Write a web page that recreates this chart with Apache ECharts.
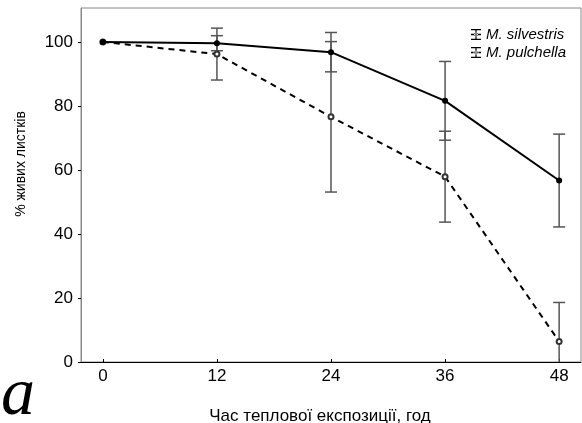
<!DOCTYPE html>
<html>
<head>
<meta charset="utf-8">
<script src="https://cdn.jsdelivr.net/npm/echarts@6/dist/echarts.min.js"></script>
<style>html,body{margin:0;padding:0;background:#fff}#c{width:582px;height:423px}</style>
</head>
<body>
<div id="c"></div>
<script>
var hours = [0, 12, 24, 36, 48];
var xTicks = [0, 12, 24, 36, 48];
var yTicks = [0, 20, 40, 60, 80, 100];
var silvestris = [100, 99.6, 96.8, 81.6, 56.7];
var silvestrisErr = [0, 2.35, 6.15, 12.3, 14.5];
var pulchella = [100, 96.2, 76.6, 57.9, 6.4];
var pulchellaErr = [0, 8.1, 23.5, 14.2, 12.2];
var nameS = 'M. silvestris';
var nameP = 'M. pulchella';

function pairs(xs, ys) { return xs.map(function (x, i) { return [x, ys[i]]; }); }
function errData(xs, ys, es) { return xs.map(function (x, i) { return [x, ys[i] - es[i], ys[i] + es[i]]; }); }

function errRender(params, api) {
  var x = api.value(0), lo = api.value(1), hi = api.value(2);
  if (hi - lo <= 0) return null;
  var pLo = api.coord([x, lo]), pHi = api.coord([x, hi]);
  var w = 6;
  var st = { stroke: '#555', lineWidth: 1.5 };
  return {
    type: 'group',
    children: [
      { type: 'line', shape: { x1: pHi[0], y1: pHi[1], x2: pLo[0], y2: pLo[1] }, style: st },
      { type: 'line', shape: { x1: pHi[0] - w, y1: pHi[1], x2: pHi[0] + w, y2: pHi[1] }, style: st },
      { type: 'line', shape: { x1: pLo[0] - w, y1: pLo[1], x2: pLo[0] + w, y2: pLo[1] }, style: st }
    ]
  };
}

var iconS = 'path://M0,0H10V1.2H0Z M4.4,0H5.6V11H4.4Z M0,9.8H10V11H0Z M0,4.7H10V6.3H0Z M3,5.5a2,2 0 1,0 4,0a2,2 0 1,0 -4,0Z';
var iconP = 'path://M0,0H10V1.2H0Z M4.4,0H5.6V11H4.4Z M0,9.8H10V11H0Z M0,4.8H2.6V6.2H0Z M7.4,4.8H10V6.2H7.4Z M3.3,5.5a1.7,1.7 0 1,0 3.4,0a1.7,1.7 0 1,0 -3.4,0Z';

var chart = echarts.init(document.getElementById('c'), null, { renderer: 'canvas' });
chart.setOption({
  animation: false,
  backgroundColor: '#fff',
  textStyle: { fontFamily: 'Liberation Sans', color: '#000' },
  grid: { left: 81, right: 1, top: 8, bottom: 61, show: true, borderColor: '#888', borderWidth: 1, containLabel: false, outerBoundsMode: 'none' },
  legend: {
    orient: 'vertical', left: 466, top: 22, itemGap: 3, itemWidth: 10, itemHeight: 11,
    textStyle: { fontSize: 15, fontStyle: 'italic', color: '#000', fontFamily: 'Liberation Sans' },
    data: [
      { name: nameS, icon: iconS, itemStyle: { color: '#000', borderWidth: 0 } },
      { name: nameP, icon: iconP, itemStyle: { color: '#000', borderWidth: 0 } }
    ]
  },
  xAxis: {
    type: 'value', min: -2.3, max: 50.3,
    name: 'Час теплової експозиції, год', nameLocation: 'middle', nameGap: 46,
    nameTextStyle: { fontSize: 17, color: '#000', padding: [0, 22, 0, 0] },
    axisLine: { show: true, onZero: false, lineStyle: { color: '#000', width: 1 } },
    axisTick: { show: true, inside: true, length: 3, customValues: xTicks, lineStyle: { color: '#000' } },
    axisLabel: { customValues: xTicks, fontSize: 17, color: '#000', margin: 6 },
    splitLine: { show: false }
  },
  yAxis: {
    type: 'value', min: 0, max: 110.6,
    name: '% живих листків', nameLocation: 'middle', nameGap: 53,
    nameTextStyle: { fontSize: 14, color: '#000', padding: [0, 0, 0, 42] },
    axisLine: { show: true, onZero: false, lineStyle: { color: '#888', width: 1 } },
    axisTick: { show: true, length: 3, customValues: yTicks, lineStyle: { color: '#000' } },
    axisLabel: { customValues: yTicks, fontSize: 17, color: '#000', margin: 8 },
    splitLine: { show: false }
  },
  series: [
    { type: 'custom', name: 'errS', renderItem: errRender, data: errData(hours, silvestris, silvestrisErr), clip: true, z: 1 },
    { type: 'custom', name: 'errP', renderItem: errRender, data: errData(hours, pulchella, pulchellaErr), clip: true, z: 1 },
    {
      type: 'line', name: nameS, data: pairs(hours, silvestris), color: '#000',
      symbol: 'circle', symbolSize: 6, lineStyle: { color: '#000', width: 2 },
      itemStyle: { color: '#000' }, z: 3
    },
    {
      type: 'line', name: nameP, data: pairs(hours, pulchella), color: '#000',
      symbol: 'emptyCircle', symbolSize: 5, lineStyle: { color: '#000', width: 2, type: [6, 5] },
      itemStyle: { color: '#333', borderColor: '#333', borderWidth: 1.2 }, z: 2
    }
  ],
  graphic: [
    { type: 'text', left: 1, top: 362, style: { text: 'a', font: 'italic 68px "Liberation Serif"', fill: '#000' } }
  ]
});
</script>
</body>
</html>
